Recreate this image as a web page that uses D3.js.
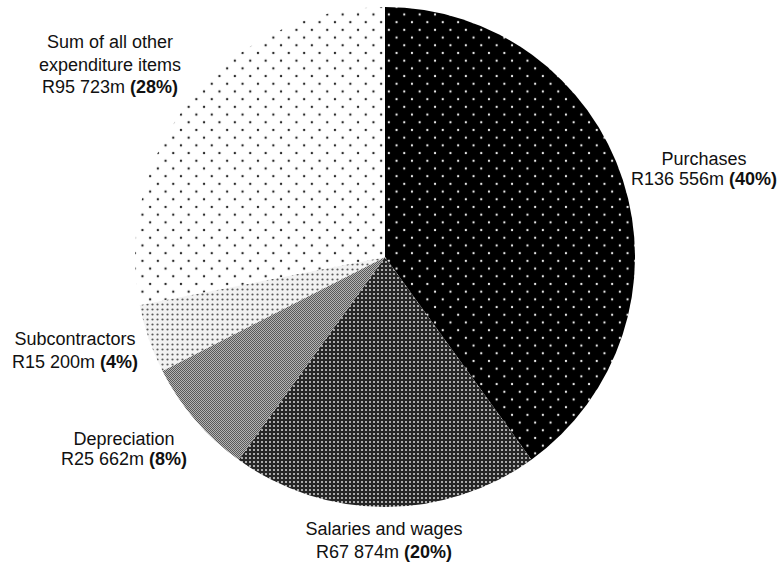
<!DOCTYPE html>
<html>
<head>
<meta charset="utf-8">
<script src="https://cdn.jsdelivr.net/npm/d3@7"></script>
<style>
  html, body { margin: 0; padding: 0; background: #fff; }
  svg { display: block; }
  text { font-family: "Liberation Sans", Arial, sans-serif; font-size: 18px; fill: #111; }
</style>
</head>
<body>
<svg id="chart" width="780" height="566"></svg>
<script>
const categories = ["Purchases", "Salaries and wages", "Depreciation", "Subcontractors", "Sum of all other expenditure items"];
const values = [136556, 67874, 25662, 15200, 95723];
const amountLabels = ["R136 556m", "R67 874m", "R25 662m", "R15 200m", "R95 723m"];
const percentLabels = ["(40%)", "(20%)", "(8%)", "(4%)", "(28%)"];
const labelLines = [["Purchases"], ["Salaries and wages"], ["Depreciation"], ["Subcontractors"], ["Sum of all other", "expenditure items"]];

const layout = {
  cx: 385, cy: 257, r: 250,
  labels: [
    { x: 704, y: 165, step: 20 },
    { x: 384, y: 535, step: 23 },
    { x: 124, y: 445, step: 20 },
    { x: 75,  y: 345, step: 23 },
    { x: 110, y: 48,  step: 22.5 }
  ]
};

const svg = d3.select("#chart");
const defs = svg.append("defs");

function dotPattern(id, w, bg, fg, pts, rad) {
  const p = defs.append("pattern").attr("id", id).attr("patternUnits", "userSpaceOnUse")
    .attr("width", w).attr("height", w);
  p.append("rect").attr("width", w).attr("height", w).attr("fill", bg);
  pts.forEach(([x, y]) => p.append("circle").attr("cx", x).attr("cy", y).attr("r", rad).attr("fill", fg));
}
// Purchases: black with white dots
dotPattern("pPurch", 15.4, "#000", "#ececec", [[3.85, 3.85], [11.55, 11.55]], 1.15);
// Others: white with dark dots
dotPattern("pOther", 15.4, "#fff", "#2a2a2a", [[3.85, 3.85], [11.55, 11.55]], 1.2);
// Subcontractors: fine light dots
dotPattern("pSub", 5, "#f2f2f2", "#5a5a5a", [[2.5, 2.5]], 1.1);
// Salaries: dark mesh
{
  const p = defs.append("pattern").attr("id", "pSal").attr("patternUnits", "userSpaceOnUse").attr("width", 4).attr("height", 4);
  p.append("rect").attr("width", 4).attr("height", 4).attr("fill", "#262626");
  p.append("rect").attr("x", 0).attr("y", 0).attr("width", 2).attr("height", 2).attr("fill", "#ababab");
}
// Depreciation: checkerboard
{
  const p = defs.append("pattern").attr("id", "pDep").attr("patternUnits", "userSpaceOnUse").attr("width", 2).attr("height", 2);
  p.append("rect").attr("width", 2).attr("height", 2).attr("fill", "#b4b4b4");
  p.append("rect").attr("x", 0).attr("y", 0).attr("width", 1).attr("height", 1).attr("fill", "#595959");
  p.append("rect").attr("x", 1).attr("y", 1).attr("width", 1).attr("height", 1).attr("fill", "#595959");
}
const fills = ["url(#pPurch)", "url(#pSal)", "url(#pDep)", "url(#pSub)", "url(#pOther)"];

const pie = d3.pie().sort(null).value(d => d)(values);
const arc = d3.arc().innerRadius(0).outerRadius(layout.r);

const g = svg.append("g").attr("transform", `translate(${layout.cx},${layout.cy})`);
g.selectAll("path").data(pie).join("path")
  .attr("d", arc)
  .attr("fill", (d, i) => fills[i]);

categories.forEach((c, i) => {
  const L = layout.labels[i];
  const t = svg.append("text").attr("text-anchor", "middle");
  const lines = labelLines[i];
  lines.forEach((ln, k) => {
    t.append("tspan").attr("x", L.x).attr("y", L.y + k * L.step).text(ln);
  });
  const last = t.append("tspan").attr("x", L.x).attr("y", L.y + lines.length * L.step);
  last.append("tspan").text(amountLabels[i] + " ");
  last.append("tspan").attr("font-weight", "bold").text(percentLabels[i]);
});
</script>
</body>
</html>
